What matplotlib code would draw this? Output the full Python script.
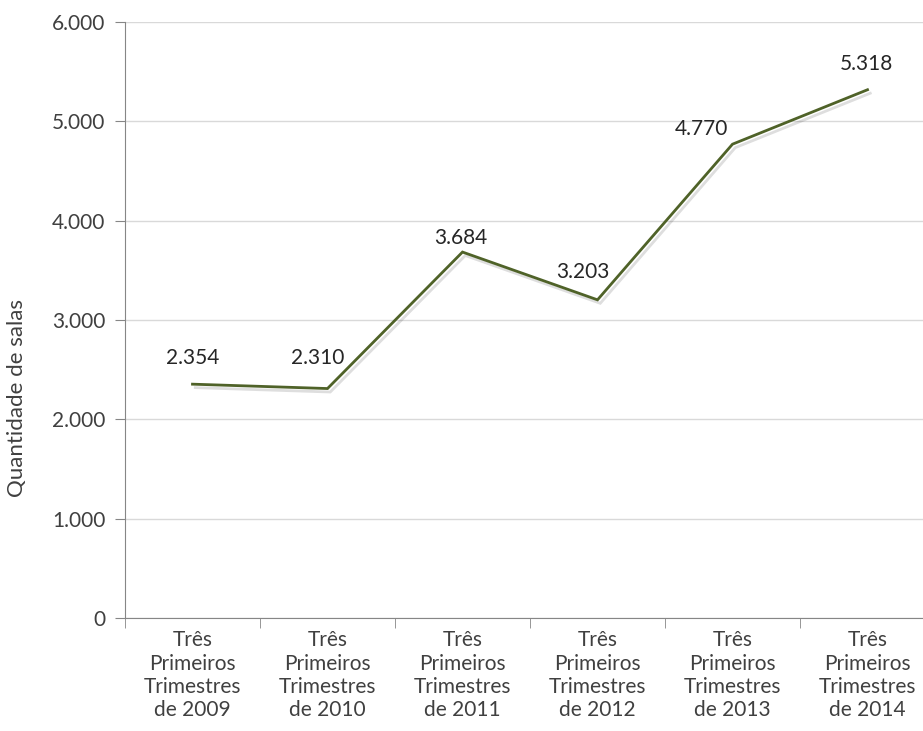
import matplotlib
matplotlib.use("Agg")
import matplotlib.pyplot as plt
import matplotlib.patheffects as pe
from matplotlib.ticker import FuncFormatter, MultipleLocator

# data
periods = ["Três\nPrimeiros\nTrimestres\nde 2009", "Três\nPrimeiros\nTrimestres\nde 2010",
           "Três\nPrimeiros\nTrimestres\nde 2011", "Três\nPrimeiros\nTrimestres\nde 2012",
           "Três\nPrimeiros\nTrimestres\nde 2013", "Três\nPrimeiros\nTrimestres\nde 2014"]
salas = [2354, 2310, 3684, 3203, 4770, 5318]
value_labels = ["2.354", "2.310", "3.684", "3.203", "4.770", "5.318"]

plt.rcParams['font.family'] = ['Lato', 'DejaVu Sans']
txt = '#404040'
axis_c = '#868686'
fs = 15

fig = plt.figure(figsize=(9.23, 7.31), dpi=100)
ax = fig.add_axes([125/923, 113/731, 810/923, 596/731])

x = list(range(len(salas)))
ax.plot(x, salas, color='#4f6228', lw=2.0, solid_joinstyle='miter', zorder=3,
        path_effects=[pe.SimpleLineShadow(offset=(2, -2.5), shadow_color='black', alpha=0.13),
                      pe.Normal()])

# label offsets in pixels (Excel-style placement)
offs = [(0, 26), (-10, 31), (-2, 14), (-15, 28), (-31, 15), (-1, 26)]
for xi, v, lab, (dx, dy) in zip(x, salas, value_labels, offs):
    ax.annotate(lab, (xi, v), xytext=(dx, dy), textcoords='offset pixels',
                ha='center', va='center', fontsize=fs, color='#262626')

ax.set_xlim(-0.5, 5.5)
ax.set_ylim(0, 6000)
ax.yaxis.set_major_locator(MultipleLocator(1000))
ax.yaxis.set_major_formatter(FuncFormatter(lambda v, p: f"{int(v):,}".replace(",", ".")))
ax.grid(axis='y', color='#d9d9d9', lw=1.0)
ax.set_axisbelow(True)

ax.set_xticks(x)
ax.set_xticklabels(periods)
ax.set_xticks([i + 0.5 for i in range(-1, 6)], minor=True)
ax.tick_params(axis='x', which='major', length=0, pad=9, labelsize=fs, labelcolor=txt)
ax.tick_params(axis='x', which='minor', length=7, color=axis_c, direction='out')
ax.tick_params(axis='y', length=7, color=axis_c, labelsize=fs, labelcolor=txt, pad=7)
for ll in ax.get_xticklabels():
    ll.set_linespacing(1.2)

for s in ['top', 'right']:
    ax.spines[s].set_visible(False)
for s in ['left', 'bottom']:
    ax.spines[s].set_color(axis_c)

ax.set_ylabel("Quantidade de salas", fontsize=16, color=txt, va='center')
ax.yaxis.set_label_coords(-0.133, 0.369)

fig.savefig("out.png", dpi=100)
